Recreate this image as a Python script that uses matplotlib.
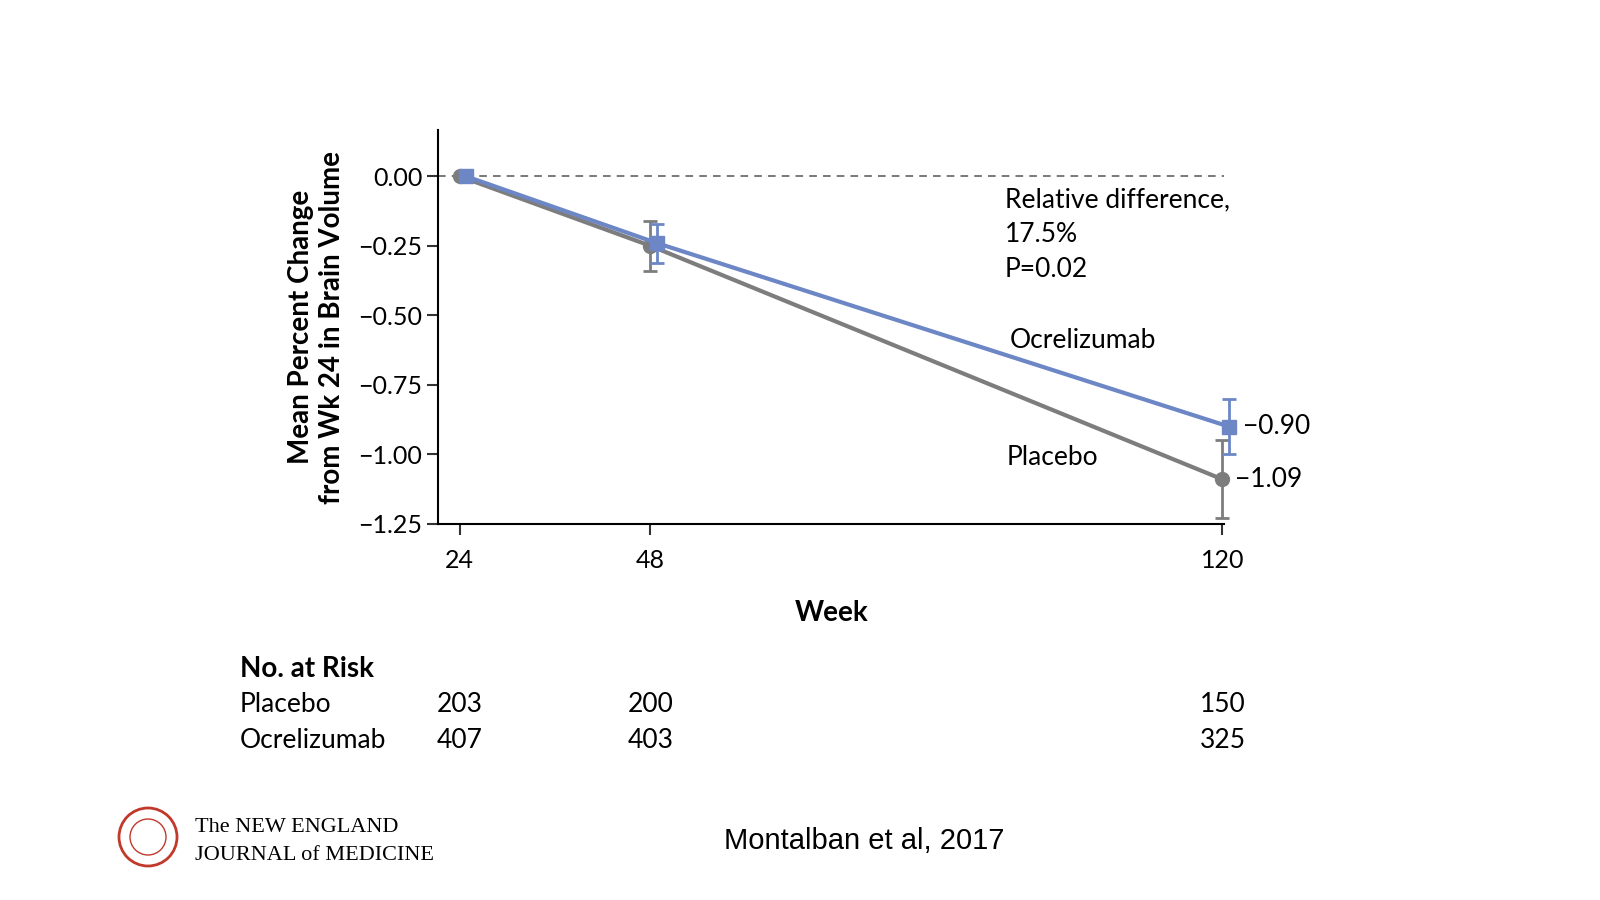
import matplotlib
matplotlib.use("Agg")
import matplotlib.pyplot as plt
from matplotlib.patches import Ellipse

weeks = [24, 48, 120]
placebo = [0.0, -0.25, -1.09]
placebo_err = [0.0, 0.09, 0.14]
ocre = [0.0, -0.24, -0.90]
ocre_err = [0.0, 0.07, 0.10]
ocre_offset = 0.8
risk_placebo = [203, 200, 150]
risk_ocre = [407, 403, 325]
yticks = [0.0, -0.25, -0.5, -0.75, -1.0, -1.25]

plt.rcParams['font.family'] = ['Lato', 'DejaVu Sans']
fig = plt.figure(figsize=(16, 9), dpi=100)
AX = [0.274, 0.418, 0.491, 0.437]
ax = fig.add_axes(AX)
gray = '#7d7d7d'
blue = '#6d87c6'
ax.axhline(0, color='#555555', ls=(0, (5, 4)), lw=1.1, zorder=1)
ax.errorbar(weeks, placebo, yerr=placebo_err, color=gray, lw=3, marker='o', ms=10,
            ecolor=gray, elinewidth=2, capsize=5, capthick=2, zorder=3, clip_on=False)
ax.errorbar([w + ocre_offset for w in weeks], ocre, yerr=ocre_err, color=blue, lw=3, marker='s', ms=10,
            ecolor=blue, elinewidth=2, capsize=5, capthick=2, zorder=4, clip_on=False)
ax.set_xlim(21.3, 120.2)
ax.set_ylim(-1.25, 0.165)
ax.set_xticks(weeks)
ax.set_xticklabels([str(w) for w in weeks])
ax.set_yticks(yticks)
ax.set_yticklabels([f"{v:.2f}".replace('-', '\u2212') for v in yticks])
for s in ['top', 'right']:
    ax.spines[s].set_visible(False)
for s in ['left', 'bottom']:
    ax.spines[s].set_linewidth(1.5)
ax.tick_params(labelsize=18, length=8, width=1.5, color='#333333')
ax.tick_params(axis='x', pad=10)
ax.set_xlabel('Week', fontsize=20, fontweight='bold', labelpad=20)
ax.set_ylabel('Mean Percent Change\nfrom Wk 24 in Brain Volume', fontsize=20, fontweight='bold', labelpad=10)

ax.text(92.6, -0.04, 'Relative difference,\n17.5%\nP=0.02', fontsize=19, va='top', linespacing=1.5)
ax.text(93.2, -0.59, 'Ocrelizumab', fontsize=19, va='center')
ax.text(92.8, -1.01, 'Placebo', fontsize=19, va='center')
ax.text(122.6, ocre[2], '\u22120.90', fontsize=19, va='center')
ax.text(121.6, placebo[2], '\u22121.09', fontsize=19, va='center')

def xfig(w):
    return AX[0] + (w - 21.3) / (120.2 - 21.3) * AX[2]

fig.text(0.150, 0.248, 'No. at Risk', fontsize=20, fontweight='bold')
fig.text(0.150, 0.209, 'Placebo', fontsize=19)
fig.text(0.150, 0.169, 'Ocrelizumab', fontsize=19)
for w, a, b in zip(weeks, risk_placebo, risk_ocre):
    fig.text(xfig(w), 0.209, str(a), fontsize=19, ha='center')
    fig.text(xfig(w), 0.169, str(b), fontsize=19, ha='center')

# NEJM logo
for r, lw in [(29, 2), (18, 1)]:
    fig.add_artist(Ellipse((0.0925, 0.070), 2 * r / 1600, 2 * r / 900, transform=fig.transFigure,
                           facecolor='none', edgecolor='#c0392b', lw=lw))
fig.text(0.122, 0.076, 'The NEW ENGLAND', fontsize=16, family=['Liberation Serif'])
fig.text(0.122, 0.044, 'JOURNAL of MEDICINE', fontsize=16, family=['Liberation Serif'])
fig.text(0.54, 0.057, 'Montalban et al, 2017', fontsize=21, family=['Liberation Sans'], ha='center')

fig.savefig('out.png', dpi=100)
